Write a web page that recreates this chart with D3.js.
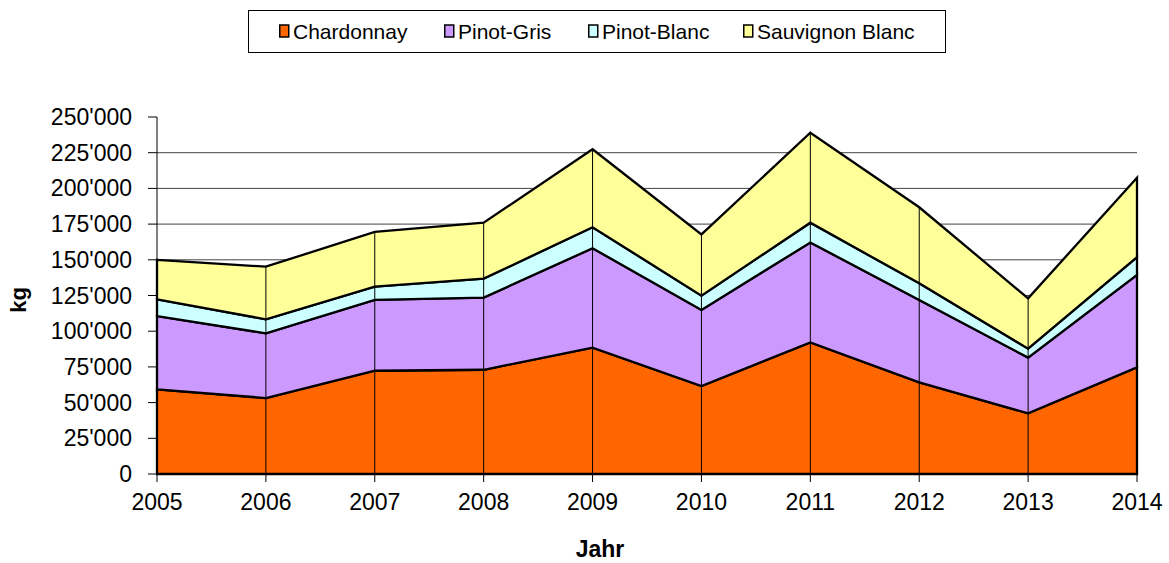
<!DOCTYPE html>
<html>
<head>
<meta charset="utf-8">
<script src="https://cdn.jsdelivr.net/npm/d3@7"></script>
<style>
  body { margin: 0; background: #fff; }
  svg { font-family: "Liberation Sans", Arial, sans-serif; }
</style>
</head>
<body>
<svg width="1169" height="563"></svg>
<script>
// données (kg)
let annees = [2005, 2006, 2007, 2008, 2009, 2010, 2011, 2012, 2013, 2014];
let series = ["Chardonnay", "Pinot-Gris", "Pinot-Blanc", "Sauvignon Blanc"];
let chardonnay = [59300, 53200, 72300, 73000, 88500, 61600, 92100, 64200, 42500, 74700];
let pinotGris = [51300, 45300, 49600, 50500, 69600, 53300, 70000, 57700, 39000, 64700];
let pinotBlanc = [11700, 9800, 9300, 13300, 14700, 10000, 13900, 11600, 6300, 12400];
let sauvignon = [27700, 36900, 38300, 39200, 54600, 42900, 63000, 53300, 35200, 55700];
let yTicks = [0, 25000, 50000, 75000, 100000, 125000, 150000, 175000, 200000, 225000, 250000];
let couleurs = ["#FF6600", "#CC99FF", "#CCFFFF", "#FFFF99"];

let svg = d3.select("svg");

let table = annees.map((a, i) => ({
    annee: a,
    "Chardonnay": chardonnay[i],
    "Pinot-Gris": pinotGris[i],
    "Pinot-Blanc": pinotBlanc[i],
    "Sauvignon Blanc": sauvignon[i]
}));

let x = d3.scaleLinear().domain([2005, 2014]).range([157, 1137]);
let y = d3.scaleLinear().domain([0, 250000]).range([474, 117]);

let locale = d3.formatLocale({decimal: ".", thousands: "'", grouping: [3], currency: ["", ""]});
let fmt = locale.format(",");

// grille horizontale
svg.append("g")
    .selectAll("line")
    .data(yTicks.filter(t => t > 0 && t < 250000))
    .join("line")
    .attr("x1", x(2005))
    .attr("x2", x(2014))
    .attr("y1", d => y(d))
    .attr("y2", d => y(d))
    .attr("stroke", "#444")
    .attr("stroke-width", 1);

// aires empilées
let stack = d3.stack().keys(series);
let couches = stack(table);

let aire = d3.area()
    .x(d => x(d.data.annee))
    .y0(d => y(d[0]))
    .y1(d => y(d[1]));

svg.append("g")
    .selectAll("path")
    .data(couches)
    .join("path")
    .attr("d", aire)
    .attr("fill", (d, i) => couleurs[i])
    .attr("stroke", "#000")
    .attr("stroke-width", 2.3)
    .attr("stroke-linejoin", "miter");

// lignes verticales à chaque année
let total = couches[couches.length - 1];
svg.append("g")
    .selectAll("line")
    .data(total)
    .join("line")
    .attr("x1", d => x(d.data.annee))
    .attr("x2", d => x(d.data.annee))
    .attr("y1", y(0))
    .attr("y2", d => y(d[1]))
    .attr("stroke", "#000")
    .attr("stroke-width", 1);

// axe y
let axeY = svg.append("g");
axeY.append("line")
    .attr("x1", 157).attr("x2", 157)
    .attr("y1", y(250000)).attr("y2", y(0))
    .attr("stroke", "#000");
axeY.selectAll(".tick")
    .data(yTicks)
    .join("line")
    .attr("x1", 148).attr("x2", 157)
    .attr("y1", d => y(d)).attr("y2", d => y(d))
    .attr("stroke", "#000");
axeY.selectAll("text")
    .data(yTicks)
    .join("text")
    .attr("x", 132)
    .attr("y", d => y(d))
    .attr("dy", "0.35em")
    .attr("text-anchor", "end")
    .attr("font-size", 23)
    .attr("fill", "#000")
    .text(d => fmt(d));

// axe x
let axeX = svg.append("g");
axeX.append("line")
    .attr("x1", x(2005)).attr("x2", x(2014))
    .attr("y1", y(0)).attr("y2", y(0))
    .attr("stroke", "#000");
axeX.selectAll(".tick")
    .data(annees)
    .join("line")
    .attr("x1", d => x(d)).attr("x2", d => x(d))
    .attr("y1", y(0)).attr("y2", y(0) + 8)
    .attr("stroke", "#000");
axeX.selectAll("text")
    .data(annees)
    .join("text")
    .attr("x", d => x(d))
    .attr("y", 510)
    .attr("text-anchor", "middle")
    .attr("font-size", 23)
    .attr("fill", "#000")
    .text(d => d);

// titres des axes
svg.append("text")
    .attr("transform", "translate(26,300) rotate(-90)")
    .attr("text-anchor", "middle")
    .attr("font-size", 22)
    .attr("font-weight", "bold")
    .text("kg");

svg.append("text")
    .attr("x", 600)
    .attr("y", 557)
    .attr("text-anchor", "middle")
    .attr("font-size", 23)
    .attr("font-weight", "bold")
    .text("Jahr");

// légende
let legende = svg.append("g");
legende.append("rect")
    .attr("x", 248.5).attr("y", 10.5)
    .attr("width", 697).attr("height", 42)
    .attr("fill", "#fff")
    .attr("stroke", "#000");

let posLegende = [279, 444, 588, 743];
let items = legende.selectAll(".item")
    .data(series)
    .join("g")
    .attr("transform", (d, i) => `translate(${posLegende[i]},0)`);
items.append("rect")
    .attr("x", 0.75).attr("y", 25)
    .attr("width", 9).attr("height", 12)
    .attr("fill", (d, i) => couleurs[i])
    .attr("stroke", "#000")
    .attr("stroke-width", 1.5);
items.append("text")
    .attr("x", 14)
    .attr("y", 39)
    .attr("font-size", 21)
    .attr("fill", "#000")
    .text(d => d);
</script>
</body>
</html>
